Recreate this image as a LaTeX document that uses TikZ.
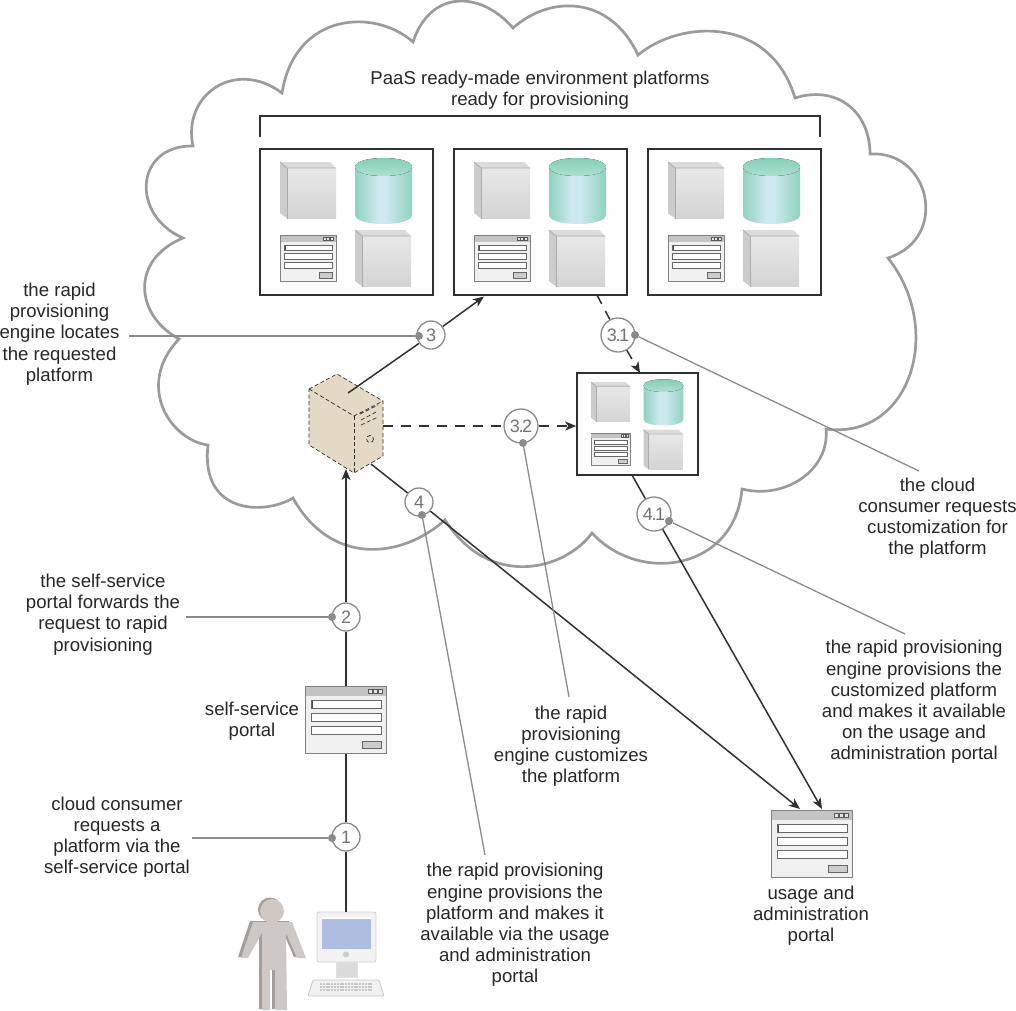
\documentclass[tikz,border=0pt]{standalone}
\usepackage{fontspec}
\setmainfont{Liberation Sans}
\usetikzlibrary{arrows.meta}

\definecolor{inkdark}{HTML}{303030}
\definecolor{textdark}{HTML}{262626}
\definecolor{cloudgray}{HTML}{9A9B9E}
\definecolor{callgray}{HTML}{8A8A8A}
\definecolor{servertan}{HTML}{E3D9C4}
\definecolor{personlight}{HTML}{CFC9C5}
\definecolor{persondark}{HTML}{A39E9B}
\definecolor{screenblue}{HTML}{AEBEE0}
\definecolor{cylA}{HTML}{8FD2BF}
\definecolor{cylB}{HTML}{CDE9EF}
\definecolor{cylC}{HTML}{94D2C0}
\definecolor{cyltop}{HTML}{7FCBB0}
\definecolor{cylrim}{HTML}{B4E2D6}
\pgfdeclarehorizontalshading{cylshade}{100bp}{color(0bp)=(cylA); color(25bp)=(cylA); color(45bp)=(cylB); color(52bp)=(cylB); color(75bp)=(cylA); color(100bp)=(cylC)}

\tikzset{
	txt/.style={align=center, text=textdark, inner sep=0pt, font=\fontsize{18.6}{21.2}\selectfont},
	platbox/.style={draw=inkdark, line width=1.6pt, fill=white, inner sep=0pt},
	numcirc/.style={circle, draw=callgray, line width=1.3pt, fill=white, text=black!55, inner sep=0pt, font=\fontsize{18}{20}\selectfont},
	calldot/.style={circle, fill=callgray, inner sep=0pt, minimum size=8pt},
	callline/.style={draw=callgray, line width=1.3pt},
	conline/.style={draw=inkdark, line width=1.5pt},
	conarrow/.style={conline, -{Stealth[length=11pt,width=9pt,inset=3pt]}},
	condash/.style={conarrow, dash pattern=on 10pt off 8pt},
	pics/portalwin/.style={code={
		\draw[draw=black!50, fill=black!6, line width=1pt] (0,0) rectangle (56,46);
		\fill[black!23] (0.5,0.5) rectangle (55.5,7);
		\foreach \xx in {43,46.6,50.2}
			\draw[black!65, fill=black!10, line width=0.3pt] (\xx,2) rectangle ++(2.8,3);
		\foreach \yy in {10,18.6,27.4}
			\draw[black!60, fill=white, line width=0.6pt] (4,\yy) rectangle (52,\yy+5.6);
		\fill[black!70] (4.6,10.6) rectangle (5.4,15);
		\draw[black!60, fill=black!20, line width=0.6pt] (39,37.6) rectangle (52,43);
	}},
	pics/platcube/.style={code={
		\fill[black!14] (-7,-6) -- (43,-6) -- (49,0) -- (0,0) -- cycle;
		\fill[black!20] (-7,-6) -- (0,0) -- (0,50.5) -- (-7,45) -- cycle;
		\fill[top color=black!9, bottom color=black!17] (0,0) rectangle (49,50.5);
		\draw[black!33, line width=0.8pt] (-7,-6) -- (0,0) -- (49,0);
		\draw[black!33, line width=0.8pt] (0,0) -- (0,50.5);
	}},
	pics/platstuff/.style={code={
		\pic[scale=#1] at (27,19) {platcube};
		\pic[scale=#1] at (102,87) {platcube};
		\pic[scale=#1] at (20,86) {portalwin};
		%cylinder
		\shade[shading=cylshade] (95,18) -- (95,66) .. controls (95,78) and (152,78) .. (152,66) -- (152,18) -- cycle;
		\fill[top color=cyltop, bottom color=cylrim] (95,18) .. controls (95,6) and (152,6) .. (152,18) .. controls (152,30) and (95,30) .. (95,18) -- cycle;
	}},
	pics/platstuff/.default=1,
}

\begin{document}
\begin{tikzpicture}[x=1pt, y=-1pt]
	
	\useasboundingbox (0,0) rectangle (1016,1010);
	
	%cloud
	\draw[draw=cloudgray, line width=2.7pt, line join=miter]
		(193,146) .. controls (182,95) and (235,58) .. (282,93)
		.. controls (295,12) and (375,8) .. (413,42)
		.. controls (430,-10) and (480,-10) .. (513,28)
		.. controls (550,-5) and (610,-5) .. (638,55)
		.. controls (680,20) and (770,15) .. (795,98)
		.. controls (835,85) and (870,110) .. (870,154)
		.. controls (930,150) and (950,238) .. (888,258)
		.. controls (945,330) and (910,440) .. (826,429)
		.. controls (830,470) and (785,500) .. (742,489)
		.. controls (735,570) and (640,585) .. (592,533)
		.. controls (565,570) and (490,590) .. (445,520)
		.. controls (400,560) and (330,565) .. (293,498)
		.. controls (265,515) and (200,515) .. (208,445)
		.. controls (170,440) and (135,385) .. (179,339)
		.. controls (135,315) and (130,260) .. (183,238)
		.. controls (130,215) and (135,145) .. (193,146) -- cycle;
	
	%platforms with bracket
	\node[txt] (paastxt) at (540,90) {PaaS ready-made environment platforms\\ready for provisioning};
	\coordinate (brackL) at (260,137);
	\coordinate (brackR) at (820,137);
	\draw[conline] (brackL) -- (260,116) -- (820,116) -- (brackR);
	\foreach \xx/\nm in {346.5/platA, 540.5/platB, 734.5/platC}
		\node[platbox, minimum width=173pt, minimum height=146pt] (\nm) at (\xx,222) {};
	\foreach \xx in {260,454,648}
		\pic at (\xx,149) {platstuff};
	\node[platbox, minimum width=121pt, minimum height=102pt] (platS) at (637.5,424) {};
	\pic[scale=0.7] at (577,373) {platstuff=0.7};
	
	%rapid provisioning server
	\coordinate (srvN) at (348,393);
	\coordinate (srvE) at (383,426);
	\coordinate (srvS) at (346,469);
	\coordinate (srvSE) at (371,464);
	\begin{scope}[draw=inkdark, line width=0.7pt, dash pattern=on 4pt off 2.5pt]
	\draw[fill=servertan] (309,389) -- (337,374) -- (383,401) -- (383,456) -- (354,473) -- (309,445) -- cycle;
	\draw (309,389) -- (354,416) -- (383,401);
	\draw (354,416) -- (354,473);
	\draw (360,414) -- (378,405);
	\draw (361,420) -- (378,411);
	\draw (361,425) -- (378,417);
	\draw (370,439) circle (3.5);
	\end{scope}
	
	%portal windows
	\node[minimum width=82pt, minimum height=68pt, inner sep=0pt] (selfportal) at (346,720) {};
	\pic[scale=1.46] at (305,686) {portalwin};
	\node[minimum width=82pt, minimum height=68pt, inner sep=0pt] (usageportal) at (812,844) {};
	\pic[scale=1.46] at (771,810) {portalwin};
	
	%cloud consumer
	\foreach \sx/\sy/\col in {-3/-1/persondark, 0/0/personlight}
		\fill[\col, shift={(\sx,\sy)}] (253,922) -- (292,922) -- (306,958) -- (297,958) -- (286,933) -- (287,1010) -- (275,1010) -- (275,970) -- (270,970) -- (270,1010) -- (262,1010) -- (262,933) -- (248,958) -- (241,958) -- cycle;
	\fill[persondark] (270,909.5) circle (12);
	\fill[personlight] (272,911) circle (12);
	
	%computer
	\coordinate (compu) at (346,912);
	\draw[draw=black!18, fill=black!5, line width=0.8pt, rounded corners=2pt] (317,912) rectangle (376,962);
	\fill[screenblue] (322,917) rectangle (371,949);
	\fill[white] (322,917) rectangle (371,919);
	\fill[black!20] (346,954.5) circle (3);
	\draw[draw=black!12, fill=black!14, line width=0.6pt] (336,962) rectangle (357,977);
	\draw[draw=black!22, fill=black!5, line width=0.8pt, rounded corners=1pt] (313,980) -- (379,980) -- (384,996) -- (308,996) -- cycle;
	\foreach \yy in {983.5,986.5,989.5}
		\draw[black!22, line width=2pt, dash pattern=on 2pt off 0.8pt] (320,\yy) -- (373,\yy);
	
	%number circles
	\node[numcirc, minimum size=28pt] (n1) at (346,837) {1};
	\node[numcirc, minimum size=28pt] (n2) at (346,617) {2};
	\node[numcirc, minimum size=28pt] (n3) at (431,335) {3};
	\node[numcirc, minimum size=34pt] (n31) at (618,335) {3\kern-1.5pt.\kern-1.5pt1};
	\node[numcirc, minimum size=34pt] (n32) at (521,426) {3\kern-1.5pt.\kern-1.5pt2};
	\node[numcirc, minimum size=28pt] (n4) at (419,502) {4};
	\node[numcirc, minimum size=34pt] (n41) at (654,514) {4\kern-1.5pt.\kern-1.5pt1};
	
	%arrows
	\coordinate (platBin) at (484,296.5);
	\coordinate (platBout) at (597,295);
	\coordinate (platSin) at (640,373);
	\coordinate (platSout) at (632,475);
	\coordinate (usageA) at (800,809);
	\coordinate (usageB) at (822,809);
	\draw[conline] (compu) -- (n1);
	\draw[conline] (n1) -- (selfportal.south);
	\draw[conline] (selfportal.north) -- (n2);
	\draw[conarrow] (n2) -- (srvS);
	\draw[conline] (srvN) -- (n3);
	\draw[conarrow] (n3) -- (platBin);
	\draw[conline, dash pattern=on 10pt off 8pt] (platBout) -- (n31);
	\draw[condash] (n31) -- (platSin);
	\draw[conline, dash pattern=on 10pt off 8pt] (srvE) -- (n32);
	\draw[condash] (n32) -- (n32 -| platS.west);
	\draw[conline] (srvSE) -- (n4);
	\draw[conarrow] (n4) -- (usageA);
	\draw[conline] (platSout) -- (n41);
	\draw[conarrow] (n41) -- (usageB);
	
	%description texts
	\node[txt] (tLocate) at (59.5,334) {the rapid\\provisioning\\engine locates\\the requested\\platform};
	\node[txt] (tRequest) at (937.5,518) {the cloud\\consumer requests\\customization for\\the platform};
	\node[txt] (tForward) at (103,614.5) {the self-service\\portal forwards the\\request to rapid\\provisioning};
	\node[txt] (tSelf) at (252,721) {self-service\\portal};
	\node[txt] (tConsumer) at (117,837) {cloud consumer\\requests a\\platform via the\\self-service portal};
	\node[txt] (tCustom) at (571,746) {the rapid\\provisioning\\engine customizes\\the platform};
	\node[txt] (tProvCust) at (914,702) {the rapid provisioning\\engine provisions the\\customized platform\\and makes it available\\on the usage and\\administration portal};
	\node[txt] (tUsage) at (811,915.5) {usage and\\administration\\portal};
	\node[txt] (tProv) at (515,925) {the rapid provisioning\\engine provisions the\\platform and makes it\\available via the usage\\and administration\\portal};
	
	%callout lines
	\node[calldot] (d1) at (332,838) {};
	\node[calldot] (d2) at (332,617) {};
	\node[calldot] (d3) at (419,336) {};
	\node[calldot] (d31) at (635,335) {};
	\node[calldot] (d32) at (523,443) {};
	\node[calldot] (d4) at (422,515) {};
	\node[calldot] (d41) at (669,521) {};
	\coordinate (e1) at (192,838);
	\coordinate (e2) at (186,617);
	\coordinate (e3) at (129,336);
	\coordinate (e31) at (919,471);
	\coordinate (e32) at (569,697);
	\coordinate (e4) at (485,855);
	\coordinate (e41) at (905,634);
	\foreach \nm in {1,2,3,31,32,4,41}
		\draw[callline] (e\nm) -- (d\nm);
	
\end{tikzpicture}
\end{document}
